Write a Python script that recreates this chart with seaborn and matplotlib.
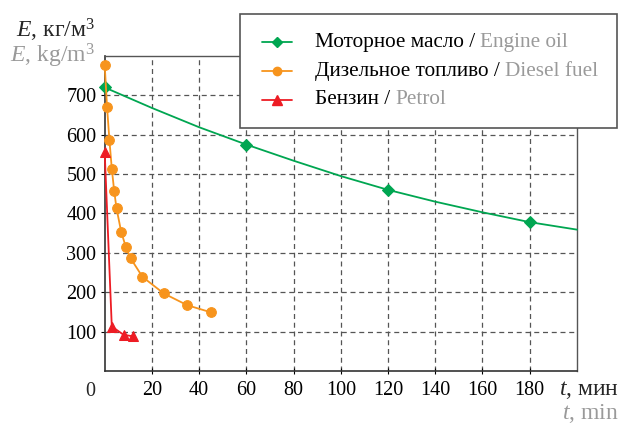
import pandas as pd
import seaborn as sns
import matplotlib.pyplot as plt
from matplotlib.lines import Line2D
from matplotlib.offsetbox import AnchoredOffsetbox, HPacker, VPacker, TextArea, DrawingArea

# Данные
oil_t = [0, 20, 40, 60, 80, 100, 120, 140, 160, 180, 200]
oil_E = [720, 668, 619, 575, 534, 495, 460, 430, 403, 378, 359]
oil_marks = [0, 3, 6, 9]

diesel_t = [0, 1, 2, 3, 4, 5, 7, 9, 11, 16, 25, 35, 45]
diesel_E = [777, 670, 586, 514, 458, 413, 353, 314, 286, 239, 197, 167, 149]

petrol_t = [0, 3, 8, 12]
petrol_E = [555, 113, 92, 88]

x_ticks = [20, 40, 60, 80, 100, 120, 140, 160, 180]
y_ticks = [100, 200, 300, 400, 500, 600, 700]

green = "#00a651"
orange = "#f7941d"
red = "#ed1c24"
grey_txt = "#9a9a9a"

sns.set_style("ticks")
plt.rcParams["font.family"] = ["Liberation Serif", "DejaVu Serif"]
plt.rcParams["mathtext.fontset"] = "custom"
plt.rcParams["mathtext.rm"] = "Liberation Serif"
plt.rcParams["mathtext.it"] = "Liberation Serif:italic"

fig = plt.figure(figsize=(6.21, 4.24), dpi=100)
ax = fig.add_axes([0.1686, 0.125, 0.7604, 0.743])

#Линии
sns.lineplot(x=oil_t, y=oil_E, ax=ax, color=green, lw=1.3, marker="D", ms=6,
             markevery=oil_marks, mec=green, clip_on=False, zorder=3)
sns.lineplot(x=diesel_t, y=diesel_E, ax=ax, color=orange, lw=1.3, marker="o", ms=7,
             mec=orange, clip_on=False, zorder=3)
sns.lineplot(x=petrol_t, y=petrol_E, ax=ax, color=red, lw=1.3, marker="^", ms=7.5,
             mec=red, clip_on=False, zorder=4)

ax.set_xlim(0, 200)
ax.set_ylim(0, 800)
ax.set_xticks(x_ticks)
ax.set_yticks(y_ticks)
ax.tick_params(axis="both", labelsize=14.5, colors="black")
ax.tick_params(axis="x", direction="inout", length=5, pad=5)
ax.tick_params(axis="y", direction="out", length=3, pad=3)
ax.grid(True, ls=(0, (4, 3)), color="#555555", lw=0.9)
ax.set_xlabel("")
ax.set_ylabel("")
for s in ["left", "bottom"]:
    ax.spines[s].set_color("#333333")
    ax.spines[s].set_linewidth(1.2)
for s in ["top", "right"]:
    ax.spines[s].set_color("#555555")
    ax.spines[s].set_linewidth(1.0)

# подписи осей
fig.text(90 / 621, 1 - 396 / 424, "0", ha="center", va="baseline", fontsize=14.5)
fig.text(95 / 621, 1 - 37 / 424, r"$E$, кг/м$^3$", ha="right", va="baseline", fontsize=17)
fig.text(95 / 621, 1 - 62 / 424, r"$E$, kg/m$^3$", ha="right", va="baseline", fontsize=17,
         color=grey_txt)
fig.text(619 / 621, 1 - 395 / 424, r"$t$, мин", ha="right", va="baseline", fontsize=17)
fig.text(619 / 621, 1 - 419 / 424, r"$t$, min", ha="right", va="baseline", fontsize=17,
         color=grey_txt)


#Легенда
def legend_row(color, marker, ms, ru, en):
    da = DrawingArea(24, 10, 0, 0)
    da.add_artist(Line2D([2.4, 24], [5, 5], color=color, lw=1.3))
    da.add_artist(Line2D([13.2], [5], color=color, marker=marker, ms=ms, mec=color))
    txt = HPacker(children=[TextArea(ru, textprops=dict(color="black", size=15.3)),
                            TextArea(en, textprops=dict(color=grey_txt, size=15.3))],
                  align="baseline", pad=0, sep=0)
    return HPacker(children=[da, txt], align="center", pad=0, sep=16.5)


rows = [legend_row(green, "D", 5, "Моторное масло / ", "Engine oil"),
        legend_row(orange, "o", 6, "Дизельное топливо / ", "Diesel fuel"),
        legend_row(red, "^", 6.5, "Бензин / ", "Petrol")]
box = VPacker(children=rows, align="left", pad=0, sep=7.1)
leg = AnchoredOffsetbox(loc="upper left", child=box, pad=1.35, borderpad=0, frameon=True,
                        prop=dict(size=10),
                        bbox_to_anchor=(240 / 621, 1 - 14 / 424),
                        bbox_transform=fig.transFigure)
leg.patch.set_edgecolor("#555555")
leg.patch.set_linewidth(1.2)
leg.patch.set_boxstyle("square", pad=0)
fig.add_artist(leg)

plt.savefig("out.png", dpi=100)
